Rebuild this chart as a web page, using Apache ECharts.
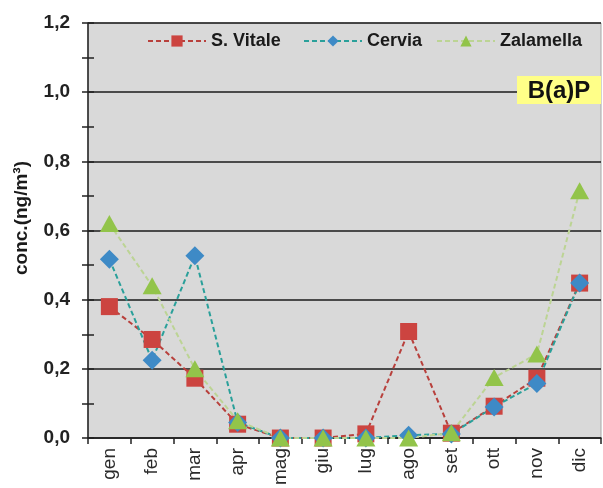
<!DOCTYPE html>
<html>
<head>
<meta charset="utf-8">
<script src="https://cdn.jsdelivr.net/npm/echarts@6/dist/echarts.min.js"></script>
<style>
  html, body { margin: 0; padding: 0; background: #fff; }
  #main { width: 603px; height: 488px; }
</style>
</head>
<body>
<div id="main"></div>
<script>
// mesi
var months = ['gen', 'feb', 'mar', 'apr', 'mag', 'giu', 'lug', 'ago', 'set', 'ott', 'nov', 'dic'];
// B(a)P ng/m3
var sVitale   = [0.38, 0.285, 0.173, 0.04, 0.0, 0.0, 0.012, 0.308, 0.014, 0.092, 0.173, 0.448];
var cervia    = [0.517, 0.225, 0.527, 0.045, 0.0, 0.0, 0.0, 0.008, 0.012, 0.09, 0.158, 0.448];
var zalamella = [0.62, 0.44, 0.2, 0.05, 0.0, 0.0, 0.0, 0.0, 0.015, 0.175, 0.243, 0.715];
var yTicks = ['0,0', '0,2', '0,4', '0,6', '0,8', '1,0', '1,2'];

var FONT = 'Liberation Sans, Arial, sans-serif';

var myChart = echarts.init(document.getElementById('main'));

function legendFor(name, left) {
    return {
        data: [name],
        left: left,
        top: 32,
        itemWidth: 58,
        itemHeight: 14,
        padding: 0,
        selectedMode: false,
        textStyle: {
            fontFamily: FONT,
            fontSize: 18,
            fontWeight: 'bold',
            color: '#1a1a1a',
            padding: [0, 0, 0, 0]
        }
    };
}

var option = {
    backgroundColor: '#fff',
    animation: false,
    textStyle: { fontFamily: FONT },
    legend: [
        legendFor('S. Vitale', 147),
        legendFor('Cervia', 303),
        legendFor('Zalamella', 436)
    ],
    grid: {
        left: 88,
        top: 23,
        right: 2,
        bottom: 48,
        show: true,
        backgroundColor: '#d9d9d9',
        borderColor: '#a6a6a6',
        borderWidth: 1
    },
    xAxis: {
        type: 'category',
        data: months,
        boundaryGap: true,
        axisLine: { lineStyle: { color: '#222', width: 1.5 } },
        axisTick: { show: true, length: 6, inside: false, lineStyle: { color: '#222', width: 1.5 } },
        axisLabel: {
            rotate: 90,
            margin: 10,
            fontSize: 19,
            color: '#2a2a2a',
            fontFamily: FONT
        },
        splitLine: { show: false }
    },
    yAxis: [{
        type: 'value',
        min: 0,
        max: 1.2,
        interval: 0.2,
        axisLine: { show: true, lineStyle: { color: '#222', width: 1.5 } },
        axisTick: { show: true, length: 6, lineStyle: { color: '#222', width: 1.5 } },
        minorTick: { show: true, splitNumber: 2, length: 6, lineStyle: { color: '#222', width: 1.5 } },
        axisLabel: {
            margin: 18,
            fontSize: 19,
            fontWeight: 'bold',
            color: '#222',
            fontFamily: FONT,
            formatter: function (v) {
                return yTicks[Math.round(v / 0.2)];
            }
        },
        splitLine: { show: true, lineStyle: { color: '#1a1a1a', width: 1.5 } }
    }, {
        // tacche interne ogni 0,1
        type: 'value',
        position: 'left',
        min: 0,
        max: 1.2,
        interval: 0.1,
        axisLine: { show: false },
        axisTick: { show: true, inside: true, length: 6, lineStyle: { color: '#222', width: 1.5 } },
        axisLabel: { show: false },
        splitLine: { show: false }
    }],
    graphic: [{
        type: 'text',
        x: 22,
        y: 218,
        rotation: Math.PI / 2,
        style: {
            text: 'conc.(ng/m³)',
            fontFamily: FONT,
            fontSize: 19,
            fontWeight: 'bold',
            fill: '#1a1a1a',
            align: 'center',
            verticalAlign: 'middle'
        }
    }, {
        type: 'group',
        right: 2,
        top: 76,
        z: 100,
        children: [{
            type: 'rect',
            z: 100,
            shape: { x: 0, y: 0, width: 84, height: 28 },
            style: { fill: '#ffff88' }
        }, {
            type: 'text',
            z: 101,
            x: 42,
            y: 15,
            style: {
                text: 'B(a)P',
                fontFamily: FONT,
                fontSize: 24,
                fontWeight: 'bold',
                fill: '#111',
                align: 'center',
                verticalAlign: 'middle'
            }
        }]
    }],
    series: [{
        name: 'S. Vitale',
        type: 'line',
        data: sVitale,
        symbol: 'rect',
        symbolSize: 17,
        itemStyle: { color: '#cc4440' },
        lineStyle: { color: '#b8403c', width: 2, type: [5, 3] }
    }, {
        name: 'Cervia',
        type: 'line',
        data: cervia,
        symbol: 'diamond',
        symbolSize: 19,
        itemStyle: { color: '#3e8ac6' },
        lineStyle: { color: '#2aa09a', width: 2, type: [5, 3] }
    }, {
        name: 'Zalamella',
        type: 'line',
        data: zalamella,
        symbol: 'triangle',
        symbolSize: [19, 17],
        itemStyle: { color: '#92c44a' },
        lineStyle: { color: '#bcd494', width: 2, type: [5, 3] }
    }]
};

myChart.setOption(option);
</script>
</body>
</html>
